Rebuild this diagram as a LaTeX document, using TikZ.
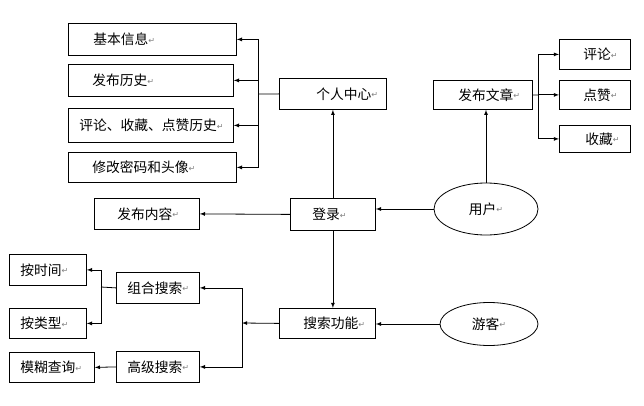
\documentclass[tikz,border=0pt]{standalone}
\usepackage{fontspec}
\setmainfont{Noto Sans CJK SC}
\newfontfamily\markfont{DejaVu Sans}
\newcommand{\pmark}{\raisebox{1.5pt}{\markfont\fontsize{8}{8}\selectfont\color{gray}↵}}
\usetikzlibrary{shapes.geometric}

\begin{document}
\begin{tikzpicture}[x=1pt,y=-1pt,line width=0.8pt,
		box/.style={draw,anchor=north west,inner sep=0pt,align=left,font=\fontsize{13.75}{14}\selectfont},
		actor/.style={draw,ellipse,inner sep=0pt,font=\fontsize{13.75}{14}\selectfont}]
	\useasboundingbox (0,0) rectangle (644,406);
	% personal centre
	\node[box,text width=168pt,minimum height=32pt] (info) at (68,23) {\hspace*{25pt}基本信息\pmark};
	\node[box,text width=165pt,minimum height=32pt] (history) at (68,64) {\hspace*{24pt}发布历史\pmark};
	\node[box,text width=165pt,minimum height=34pt] (comments) at (68,108) {\hspace*{11pt}评论、收藏、点赞历史\pmark};
	\node[box,text width=168pt,minimum height=30pt] (password) at (68,152) {\hspace*{24pt}修改密码和头像\pmark};
	\node[box,text width=107pt,minimum height=31pt] (center) at (279,78) {\hspace*{37pt}个人中心\pmark};
	% articles
	\node[box,text width=99pt,minimum height=29pt] (publish) at (433,80) {\hspace*{25pt}发布文章\pmark};
	\node[box,text width=71pt,minimum height=30pt] (comment) at (559,39) {\hspace*{24pt}评论\pmark};
	\node[box,text width=71pt,minimum height=29pt] (like) at (559,80) {\hspace*{24pt}点赞\pmark};
	\node[box,text width=71pt,minimum height=27pt] (collect) at (559,125) {\hspace*{26pt}收藏\pmark};
	% login
	\node[box,text width=105pt,minimum height=31pt] (post) at (94,198) {\hspace*{23pt}发布内容\pmark};
	\node[box,text width=85pt,minimum height=32pt] (login) at (290,198) {\hspace*{22pt}登录\pmark};
	\node[actor,minimum width=104pt,minimum height=52pt] (user) at (486,209) {用户\pmark};
	% search
	\node[box,text width=96pt,minimum height=30pt] (search) at (279,308) {\hspace*{24pt}搜索功能\pmark};
	\node[actor,minimum width=98pt,minimum height=43pt] (guest) at (489,324) {游客\pmark};
	\node[box,text width=83pt,minimum height=31pt] (combo) at (116,272) {\hspace*{11pt}组合搜索\pmark};
	\node[box,text width=83pt,minimum height=31pt] (advanced) at (116,351) {\hspace*{11pt}高级搜索\pmark};
	\node[box,text width=77pt,minimum height=31pt] (bytime) at (9,254) {\hspace*{11pt}按时间\pmark};
	\node[box,text width=77pt,minimum height=30pt] (bytype) at (9,308) {\hspace*{11pt}按类型\pmark};
	\node[box,text width=85pt,minimum height=30pt] (fuzzy) at (9,352) {\hspace*{11pt}模糊查询\pmark};
	% buses
	\coordinate (cbus) at (258,94);
	\coordinate (pbus) at (538,95);
	\coordinate (sbus) at (242,323);
	\coordinate (kbus) at (101,287);
	% connectors
	\draw (center.west) -- (cbus);
	\foreach \n in {info,history,comments,password} \draw[-latex] (cbus) |- (\n.east);
	\draw[-latex] (login.north) -- (center.south);
	\draw[-latex] (login.west) -- (post.east);
	\draw[-latex] (user.west) -- (user.west -| login.east);
	\draw[-latex] (user.north) -- (user.north |- publish.south);
	\draw (publish.east) -- (pbus);
	\foreach \n in {comment,like,collect} \draw[-latex] (pbus) |- (\n.west);
	\draw[-latex] (login.south) -- (login.south |- search.north);
	\draw[-latex] (guest.west) -- (guest.west -| search.east);
	\draw[-latex] (search.west) -- (sbus);
	\foreach \n in {combo,advanced} \draw[-latex] (sbus) |- (\n.east);
	\draw (combo.west) -- (kbus);
	\foreach \n in {bytime,bytype} \draw[-latex] (kbus) |- (\n.east);
	\draw[-latex] (advanced.west) -- (fuzzy.east);
\end{tikzpicture}
\end{document}
